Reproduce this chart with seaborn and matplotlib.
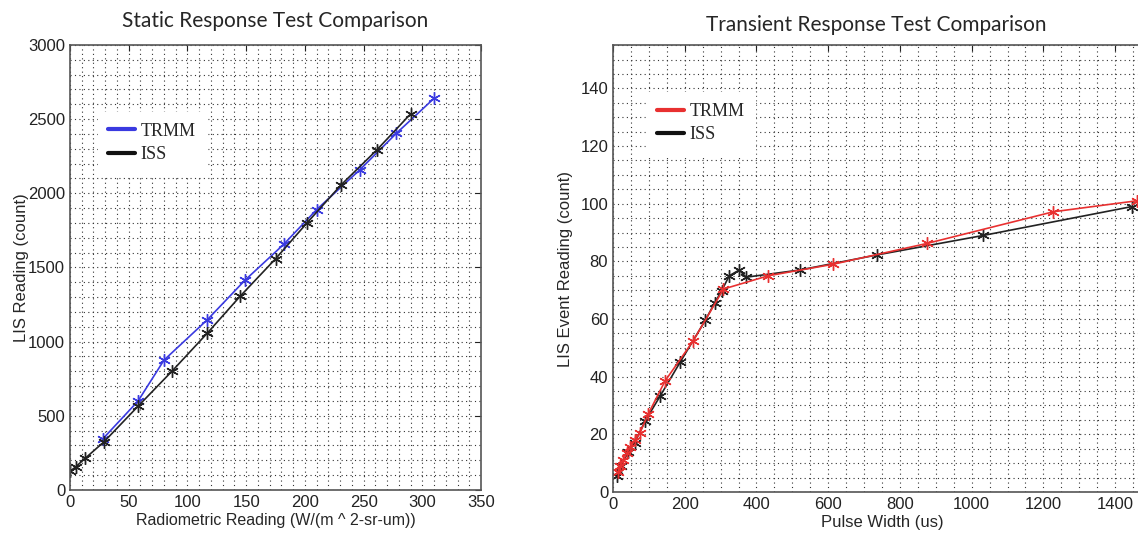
import numpy as np
import pandas as pd
import matplotlib
matplotlib.use("Agg")
import matplotlib.pyplot as plt
import seaborn as sns
from matplotlib.lines import Line2D
from matplotlib.ticker import MultipleLocator

# 靜態響應資料 (Static response)
static_trmm_x = [28, 58, 80, 117, 149, 182, 210, 247, 278, 310]
static_trmm_y = [345, 600, 875, 1148, 1414, 1656, 1890, 2160, 2405, 2640]
static_iss_x = [0, 5, 13, 29, 58, 87, 117, 145, 175, 202, 231, 261, 290]
static_iss_y = [125, 157, 214, 325, 565, 802, 1058, 1307, 1558, 1802, 2058, 2290, 2535]

# 暫態響應資料 (Transient response)
trans_trmm_x = [15, 20, 29, 38, 48, 61, 75, 98, 145, 224, 308, 433, 614, 875, 1228, 1460]
trans_trmm_y = [7, 9, 11, 13.5, 15.5, 18, 20.5, 27, 38.5, 52.5, 70.4, 75, 79, 86.2, 97.2, 101]
trans_iss_x = [10, 22, 43, 60, 89, 131, 187, 257, 284, 303, 324, 352, 371, 521, 735, 1033, 1447]
trans_iss_y = [5.5, 9, 14, 17, 24.5, 33.2, 45, 59.5, 65.7, 69.8, 75, 77, 74.5, 77, 82.2, 89, 99]

sns.set_style("white")
plt.rcParams['font.family'] = ['Liberation Sans', 'DejaVu Sans']

STAR = (6, 2, 0)  # MATLAB 風格的星號


def style_axes(ax, xminor, yminor):
    ax.xaxis.set_minor_locator(MultipleLocator(xminor))
    ax.yaxis.set_minor_locator(MultipleLocator(yminor))
    ax.grid(which='both', linestyle=(0, (1, 3)), linewidth=0.8, color='#333333')
    ax.tick_params(which='major', direction='in', length=4, labelsize=12,
                   top=True, right=True, colors='#222222')
    ax.tick_params(which='minor', length=0)
    for s in ax.spines.values():
        s.set_color('#555555')
        s.set_linewidth(1.2)


def add_legend(ax, color, anchor):
    handles = [Line2D([], [], color=color, lw=3), Line2D([], [], color='#111111', lw=3)]
    ax.legend(handles, ['TRMM', 'ISS'], loc='upper left', bbox_to_anchor=anchor,
              prop={'family': 'Liberation Serif', 'size': 13}, frameon=True,
              fancybox=False, edgecolor='white', framealpha=1, handlelength=1.5,
              handletextpad=0.3, borderpad=0.6, labelspacing=0.35)


fig = plt.figure(figsize=(11.38, 5.41), dpi=100)

# 左圖
ax1 = fig.add_axes([0.0615, 0.0943, 0.3612, 0.8226])
sns.lineplot(x=static_trmm_x, y=static_trmm_y, ax=ax1, color='#3a3ae0', lw=1.2,
             marker=STAR, markersize=9, mec='#3a3ae0', mew=1.0, sort=False)
sns.lineplot(x=static_iss_x, y=static_iss_y, ax=ax1, color='#222222', lw=1.2,
             marker=STAR, markersize=9, mec='#222222', mew=1.0, sort=False)
ax1.set_xlim(0, 350)
ax1.set_ylim(0, 3000)
ax1.set_xticks(np.arange(0, 351, 50))
ax1.set_yticks(np.arange(0, 3001, 500))
style_axes(ax1, 10, 100)
ax1.set_xlabel('Radiometric Reading (W/(m ^ 2-sr-um))', fontsize=11.5, labelpad=2)
ax1.set_ylabel('LIS Reading (count)', fontsize=12)
ax1.yaxis.set_label_coords(-0.10, 0.5)
ax1.set_title('Static Response Test Comparison', fontsize=15, family='Lato', pad=13)
add_legend(ax1, '#3a3ae0', (0.045, 0.87))

# 右圖
ax2 = fig.add_axes([0.5387, 0.0906, 0.4727, 0.826])
sns.lineplot(x=trans_iss_x, y=trans_iss_y, ax=ax2, color='#222222', lw=1.2,
             marker=STAR, markersize=9, mec='#222222', mew=1.0, sort=False)
sns.lineplot(x=trans_trmm_x, y=trans_trmm_y, ax=ax2, color='#e83030', lw=1.2,
             marker=STAR, markersize=9, mec='#e83030', mew=1.0, sort=False)
ax2.set_xlim(0, 1500)
ax2.set_ylim(0, 155)
ax2.set_xticks(np.arange(0, 1401, 200))
ax2.set_yticks(np.arange(0, 141, 20))
style_axes(ax2, 50, 5)
ax2.set_xlabel('Pulse Width (us)', fontsize=12, labelpad=2)
ax2.set_ylabel('LIS Event Reading (count)', fontsize=12)
ax2.yaxis.set_label_coords(-0.075, 0.5)
ax2.set_title('Transient Response Test Comparison', fontsize=15, family='Lato',
              pad=10, x=0.49)
add_legend(ax2, '#e83030', (0.045, 0.915))

fig.savefig('out.png', dpi=100)
